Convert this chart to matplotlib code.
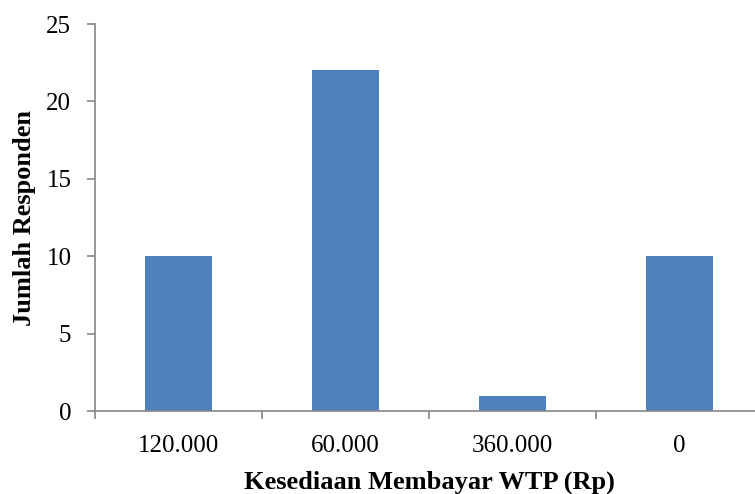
import matplotlib
matplotlib.use("Agg")
import matplotlib.pyplot as plt
import numpy as np

categories = ["120.000", "60.000", "360.000", "0"]
responden = [10, 22, 1, 10]
y_ticks = [0, 5, 10, 15, 20, 25]

plt.rcParams['font.family'] = ['Liberation Serif', 'DejaVu Serif']

fig = plt.figure(figsize=(7.55, 4.94), dpi=100)
ax = fig.add_axes([0.1258, 0.168, 0.8848, 0.7834])

x = np.arange(len(categories))
ax.bar(x, responden, width=0.4, color="#4F81BD", zorder=2)

ax.set_xlim(-0.5, len(categories) - 0.5)
ax.set_ylim(0, 25)
ax.set_yticks(y_ticks)
ax.set_yticklabels([str(v) for v in y_ticks], fontsize=18)

# category labels centred under bars, tick marks on category boundaries
ax.set_xticks(np.arange(len(categories) + 1) - 0.5)
ax.set_xticklabels([])
ax.set_xticks(x, minor=True)
ax.set_xticklabels(categories, minor=True, fontsize=18)
ax.tick_params(axis="x", which="minor", length=0, pad=17)
ax.tick_params(axis="x", which="major", length=6, width=1.2, color="#868686", direction="out")
ax.tick_params(axis="y", length=6, width=1.2, color="#868686", direction="out", pad=11)

for side in ["top", "right"]:
    ax.spines[side].set_visible(False)
for side in ["left", "bottom"]:
    ax.spines[side].set_color("#868686")
    ax.spines[side].set_linewidth(1.2)

ax.set_ylabel("Jumlah Responden", fontsize=19, fontweight="bold")
ax.yaxis.set_label_coords(-0.088, 0.5)
ax.set_xlabel("Kesediaan Membayar WTP (Rp)", fontsize=19, fontweight="bold")
ax.xaxis.set_label_coords(0.5, -0.155)

fig.savefig("out.png", dpi=100)
